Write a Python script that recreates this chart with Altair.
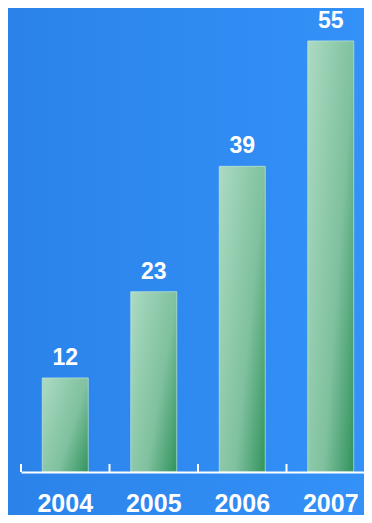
import altair as alt
import pandas as pd

years = ["2004", "2005", "2006", "2007"]
values = [12, 23, 39, 55]

bars_df = pd.DataFrame({"year": years, "value": values})
bg_df = pd.DataFrame({"k": [0]})

FONT = "Liberation Sans"

bar_gradient = alt.LinearGradient(
    gradient="linear",
    x1=0, y1=0, x2=1.154, y2=0.769,
    stops=[
        alt.GradientStop(offset=0, color="#acdbc3"),
        alt.GradientStop(offset=0.4, color="#8dc9aa"),
        alt.GradientStop(offset=0.6, color="#80c19f"),
        alt.GradientStop(offset=1, color="#31935d"),
    ],
)

bg_gradient = alt.LinearGradient(
    gradient="linear",
    x1=0, y1=0, x2=1, y2=0,
    stops=[
        alt.GradientStop(offset=0, color="#2b83ea"),
        alt.GradientStop(offset=1, color="#3391f7"),
    ],
)

x_scale = alt.Scale(domain=years, range=[0, 354], paddingInner=0, paddingOuter=0)
y_scale = alt.Scale(domain=[0, 59.2], nice=False, zero=True)

x_axis = alt.Axis(
    domain=True,
    domainColor="white",
    domainWidth=2,
    ticks=False,
    tickSize=0,
    grid=False,
    labelAngle=0,
    labelColor="white",
    labelFont=FONT,
    labelFontSize=25,
    labelFontWeight="bold",
    labelPadding=19,
    title=None,
    zindex=2,
)

background = alt.Chart(bg_df).mark_rect(fill=bg_gradient).encode(
    x=alt.value(-13), x2=alt.value(343), y=alt.value(0), y2=alt.value(507)
)

bars = alt.Chart(bars_df).mark_bar(
    fill=bar_gradient, size=46, stroke="#c4e8d5", strokeWidth=1, strokeOpacity=0.7
).encode(
    x=alt.X("year:N", sort=years, scale=x_scale, axis=x_axis),
    y=alt.Y("value:Q", scale=y_scale, axis=None),
)

ticks = alt.Chart(bars_df).mark_rule(color="white", strokeWidth=2).encode(
    x=alt.X("year:N", sort=years, scale=x_scale, bandPosition=0, axis=x_axis),
    y=alt.value(456),
    y2=alt.value(464),
)

labels = alt.Chart(bars_df).mark_text(
    color="white",
    font=FONT,
    fontSize=23,
    fontWeight="bold",
    baseline="alphabetic",
    dy=-13,
).encode(
    x=alt.X("year:N", sort=years, scale=x_scale, axis=x_axis),
    y=alt.Y("value:Q", scale=y_scale, axis=None),
    text=alt.Text("value:Q"),
)

chart = (
    alt.layer(background, bars, ticks, labels)
    .properties(
        width=343,
        height=464,
        padding={"left": 13, "top": 0, "right": 0, "bottom": 43},
        autosize=alt.AutoSizeParams(type="none"),
    )
    .configure_view(stroke=None)
)

chart.save("out.html", embed_options={"renderer": "svg", "actions": False})
